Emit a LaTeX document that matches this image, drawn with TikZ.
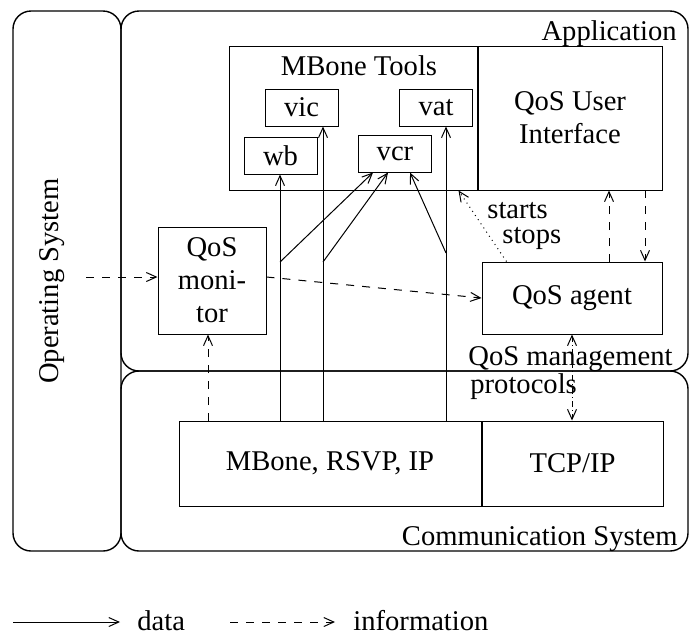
\documentclass[tikz,border=0pt]{standalone}
\usepackage{fontspec}
\setmainfont{Liberation Serif}
\usetikzlibrary{positioning,arrows.meta,calc}

\begin{document}
\begin{tikzpicture}[x=0.5pt, y=-0.5pt,
    >={Straight Barb[length=5pt,width=4.5pt]},
    every node/.style={font=\fontsize{14.3}{16.5}\selectfont},
    sys/.style={%
      rectangle, draw=black, line width=0.7pt, rounded corners=9pt,
      inner sep=0pt
    },
    bb/.style={%
      rectangle, draw=black, line width=0.5pt, inner sep=0pt, align=center
    },
    tool/.style={bb, minimum width=36.5pt, minimum height=18.5pt},
    lbl/.style={inner sep=0pt, align=left},
    data/.style={->, line width=0.5pt},
    info/.style={->, line width=0.5pt, dash pattern=on 4pt off 4pt},
    ctrl/.style={->, line width=0.5pt, dotted},
    mgmt/.style={<->, line width=0.5pt,
      dash pattern=on 3pt off 1.5pt on 0.5pt off 1.5pt}
]
    \useasboundingbox (0,0) rectangle (689,634);

    % systems
    \node[sys, minimum width=54pt, minimum height=270pt]     (os)   at (67,281)    {};
    \node[sys, minimum width=283.5pt, minimum height=180pt]  (app)  at (404.5,191) {};
    \node[sys, minimum width=283.5pt, minimum height=90pt]   (comm) at (404.5,461) {};
    \node[lbl, rotate=90]                  (oslbl)   at (52,281)  {Operating System};
    \node[lbl, anchor=base east]           (applbl)  at (677,40)  {Application};
    \node[lbl, anchor=base east]           (commlbl) at (678,545) {Communication System};

    % application
    \node[bb, minimum width=124pt, minimum height=72pt] (tools) at (353,118) {};
    \node[lbl, anchor=base]                (toolslbl) at (359,75) {MBone Tools};
    \node[bb, minimum width=92pt, minimum height=72pt]  (ui) [right = 0pt of tools] {QoS User\\Interface};
    \node[tool] (vic) at (301.5,107.5) {vic};
    \node[tool] (wb)  at (280.5,155.5) {wb};
    \node[tool] (vat) at (436,107.5)   {vat};
    \node[tool] (vcr) at (395,153.5)   {vcr};
    \node[bb, minimum width=54pt, minimum height=53.5pt] (mon)   at (212,280.5) {QoS\\moni-\\tor};
    \node[bb, minimum width=90pt, minimum height=36pt]   (agent) at (572,298)   {QoS agent};

    % communication
    \node[bb, minimum width=151pt, minimum height=42.5pt]  (mbone) at (330,463.5) {MBone, RSVP, IP};
    \node[bb, minimum width=90.5pt, minimum height=42.5pt] (tcp)   [right = 0pt of mbone] {TCP/IP};

    % data
    \coordinate (fwb)  at (280,421);
    \coordinate (fvic) at (323,421);
    \coordinate (fvat) at (446,421);
    \coordinate (bwb)  at (280,262);
    \coordinate (bvic) at (323,262);
    \coordinate (bvat) at (446,253);
    \draw[data] (fwb)  -- (fwb |- wb.south);
    \draw[data] (fvic) -- (fvic |- vic.south);
    \draw[data] (fvat) -- (fvat |- vat.south);
    \draw[data] (bwb)  -- ($(vcr.south)+(-22,0)$);
    \draw[data] (bvic) -- ($(vcr.south)+(-7,0)$);
    \draw[data] (bvat) -- ($(vcr.south)+(15,0)$);

    % information
    \coordinate (osout) at (86,277);
    \coordinate (fmon)  at (208,421);
    \coordinate (aup)   at (609,262);
    \coordinate (adn)   at (645,190);
    \draw[info] (osout) -- (osout -| mon.west);
    \draw[info] (fmon) -- (fmon |- mon.south);
    \draw[info] (osout -| mon.east) -- (agent.west);
    \draw[info] (aup) -- (aup |- ui.south);
    \draw[info] (adn) -- (adn |- agent.north);
    \draw[ctrl] ($(agent.north west)+(25,0)$) -- ($(tools.south east)+(-19,0)$);
    \draw[mgmt] (agent.south) -- (agent.south |- tcp.north);
    \node[lbl, anchor=base west] (starts) at (487,218) {starts};
    \node[lbl, anchor=base west] (stops)  at (502,243) {stops};
    \node[lbl, anchor=base west] (mgmtlbl) at (468,365) {QoS management};
    \node[lbl, anchor=base west] (protlbl) at (470,393) {protocols};

    % legend
    \node[lbl, anchor=base west] (datalbl) at (137,630) {data};
    \node[lbl, anchor=base west] (infolbl) at (353,630) {information};
    \coordinate (ldata) at (13,622);
    \coordinate (linfo) at (230,622);
    \draw[data, shorten >=8.5pt] (ldata) -- (ldata -| datalbl.west);
    \draw[info, shorten >=9pt]   (linfo) -- (linfo -| infolbl.west);

\end{tikzpicture}
\end{document}
